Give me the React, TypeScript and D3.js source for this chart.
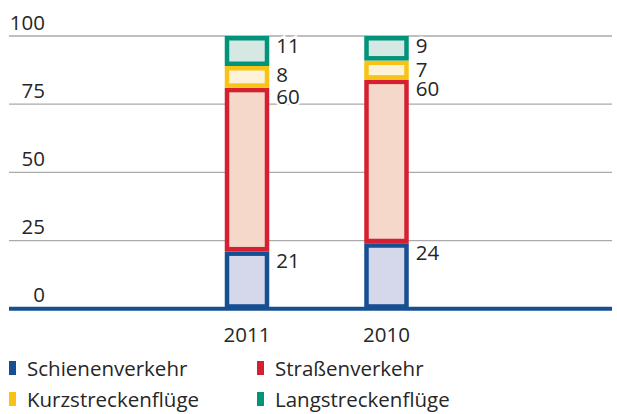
import React from "react";
import * as d3 from "d3";

const categories = ["2011", "2010"];
const seriesNames = ["Schienenverkehr", "Straßenverkehr", "Kurzstreckenflüge", "Langstreckenflüge"];
const schiene = [21, 24];
const strasse = [60, 60];
const kurz = [8, 7];
const lang = [11, 9];
const yTicks = [0, 25, 50, 75, 100];

const colors = ["#174f93", "#d42030", "#f8c315", "#00957b"];
const lightColors = ["#d5d7ea", "#f5d8c9", "#fef3d9", "#d6e8e3"];

const W = 617;
const H = 414;
const FONT = "'Open Sans', sans-serif";
const TEXT = "#262626";
const FS = 20.5;

export default function App() {
  const series = [schiene, strasse, kurz, lang];
  const y = d3.scaleLinear().domain([0, 100]).range([308.7, 36]);
  const x = d3.scalePoint<string>().domain(categories).range([247, 386.5]);
  const barW = 44.5;
  const bw = 4.5;
  const stack = d3
    .stack<number>()
    .keys(seriesNames.map((_, i) => String(i)))
    .value((ci, key) => series[+key][ci]);
  const stacked = stack(categories.map((_, i) => i));

  return (
    <svg
      width={W}
      height={H}
      style={{ position: "absolute", left: 0, top: 0, background: "#fff" }}
      fontFamily={FONT}
    >
      {yTicks.map((t) => (
        <g key={t}>
          {t !== 0 && (
            <line x1={9} x2={612} y1={y(t)} y2={y(t)} stroke="#aaaaaa" strokeWidth={1.3} />
          )}
          <text x={45} y={y(t) - 6.5} textAnchor="end" fontSize={FS} fill={TEXT}>
            {t}
          </text>
        </g>
      ))}
      {stacked.map((layer, si) =>
        layer.map((d, ci) => {
          const cx = x(categories[ci])!;
          const top = y(d[1]);
          const bottom = y(d[0]);
          return (
            <g key={`${si}-${ci}`}>
              <rect x={cx - barW / 2} y={top} width={barW} height={bottom - top} fill={colors[si]} />
              <rect
                x={cx - barW / 2 + bw}
                y={top + bw}
                width={barW - 2 * bw}
                height={Math.max(0, bottom - top - 2 * bw)}
                fill={lightColors[si]}
              />
            </g>
          );
        })
      )}
      {stacked.map((layer, si) =>
        layer.map((d, ci) => {
          const cx = x(categories[ci])!;
          return (
            <text
              key={`l-${si}-${ci}`}
              x={cx + barW / 2 + 7}
              y={y(d[1]) + 16.5}
              fontSize={FS}
              fill={TEXT}
              stroke="#fff"
              strokeWidth={5}
              paintOrder="stroke"
            >
              {series[si][ci]}
            </text>
          );
        })
      )}
      <line x1={9} x2={612} y1={y(0)} y2={y(0)} stroke={colors[0]} strokeWidth={4} />
      {categories.map((c) => (
        <text key={c} x={x(c)} y={342} textAnchor="middle" fontSize={FS} fill={TEXT}>
          {c}
        </text>
      ))}
      {seriesNames.map((n, i) => {
        const col = i % 2;
        const row = Math.floor(i / 2);
        const lx = col === 0 ? 9 : 257;
        const ly = row === 0 ? 361 : 392;
        return (
          <g key={n}>
            <rect x={lx} y={ly} width={7} height={14} fill={colors[i]} />
            <text x={lx + 18} y={ly + 15} fontSize={FS} fill={TEXT}>
              {n}
            </text>
          </g>
        );
      })}
    </svg>
  );
}
